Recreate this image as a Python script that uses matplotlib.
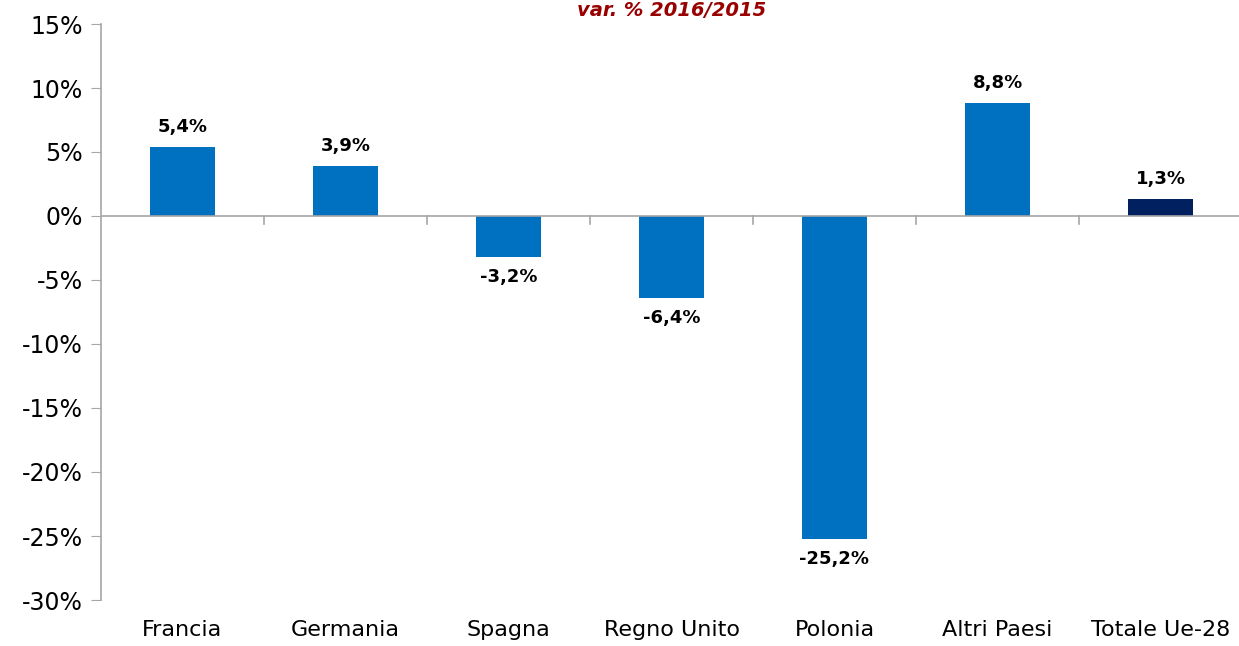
import matplotlib.pyplot as plt
import numpy as np
from matplotlib.ticker import FuncFormatter

categories = ["Francia", "Germania", "Spagna", "Regno Unito", "Polonia", "Altri Paesi", "Totale Ue-28"]
values = [5.4, 3.9, -3.2, -6.4, -25.2, 8.8, 1.3]
title = "var. % 2016/2015"

colors = ["#0070C0"] * 6 + ["#002060"]
grey = "#A6A6A6"

fig = plt.figure(figsize=(12.39, 6.46), dpi=100)
ax = fig.add_axes([101 / 1239, 46 / 646, 1141 / 1239, 576 / 646])

x = np.arange(len(categories))
ax.bar(x, values, width=0.4, color=colors, zorder=2)

for xi, v in zip(x, values):
    label = f"{v:.1f}%".replace(".", ",")
    if v >= 0:
        ax.annotate(label, (xi, v), xytext=(0, 8), textcoords="offset points",
                    ha="center", va="bottom", fontsize=13, fontweight="bold")
    else:
        ax.annotate(label, (xi, v), xytext=(0, -8), textcoords="offset points",
                    ha="center", va="top", fontsize=13, fontweight="bold")

ax.set_xlim(-0.5, len(categories) - 0.5)
ax.set_ylim(-30, 15)
ax.set_yticks(np.arange(-30, 16, 5))
ax.yaxis.set_major_formatter(FuncFormatter(lambda v, p: f"{v:.0f}%"))
ax.tick_params(axis="y", direction="out", length=7, color=grey, labelsize=17, pad=6)

# category labels at the bottom, boundary ticks on the zero line
ax.set_xticks([])
for xi, c in zip(x, categories):
    ax.text(xi, -31.6, c, ha="center", va="top", fontsize=16)
ax.axhline(0, color=grey, lw=1.2, zorder=3)
for b in np.arange(0.5, len(categories) - 1, 1):
    ax.plot([b, b], [0, -0.6], color=grey, lw=1.2, zorder=3, clip_on=False)

for s in ["top", "right", "bottom"]:
    ax.spines[s].set_visible(False)
ax.spines["left"].set_color(grey)
ax.spines["left"].set_linewidth(1.2)

fig.text(0.542, 0.999, title, ha="center", va="top", fontsize=14,
         fontstyle="italic", fontweight="bold", color="#990000")

fig.savefig("out.png", dpi=100)
